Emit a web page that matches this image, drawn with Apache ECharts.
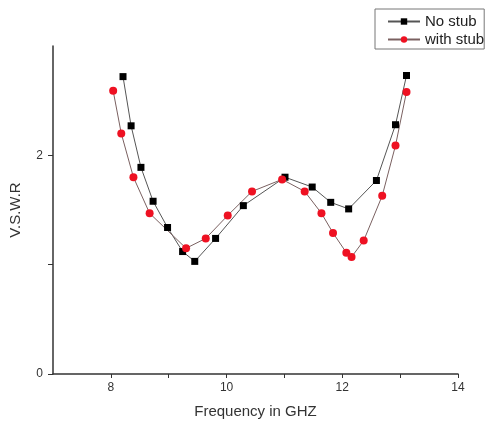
<!DOCTYPE html>
<html lang="en">
<head>
    <meta charset="UTF-8">
    <title>VSWR</title>
    <script src="https://cdn.jsdelivr.net/npm/echarts@6/dist/echarts.min.js"></script>
    <style>
        html, body { margin: 0; padding: 0; background: #fff; }
        #chart { width: 488px; height: 424px; }
    </style>
</head>
<body>
<div id="chart"></div>
<script>
    // frequency (GHz) / VSWR
    const noStubFreq = [8.21, 8.35, 8.52, 8.73, 8.98, 9.24, 9.45, 9.81, 10.29, 11.01, 11.48, 11.80, 12.11, 12.59, 12.92, 13.11];
    const noStubVswr = [2.72, 2.27, 1.89, 1.58, 1.34, 1.12, 1.03, 1.24, 1.54, 1.80, 1.71, 1.57, 1.51, 1.77, 2.28, 2.73];
    const stubFreq = [8.04, 8.18, 8.39, 8.67, 9.30, 9.64, 10.02, 10.44, 10.96, 11.35, 11.64, 11.84, 12.07, 12.16, 12.37, 12.69, 12.92, 13.11];
    const stubVswr = [2.59, 2.20, 1.80, 1.47, 1.15, 1.24, 1.45, 1.67, 1.78, 1.67, 1.47, 1.29, 1.11, 1.07, 1.22, 1.63, 2.09, 2.58];
    const xLabels = [8, 10, 12, 14];
    const yLabels = [0, 2];

    const zip = (xs, ys) => xs.map((x, i) => [x, ys[i]]);

    const chart = echarts.init(document.getElementById('chart'));
    chart.setOption({
        animation: false,
        grid: {left: 53, right: 30, top: 46, bottom: 49},
        legend: {
            left: 375,
            top: 9,
            orient: 'vertical',
            itemGap: 3,
            itemWidth: 32,
            itemHeight: 8,
            padding: [5, 0, 2, 12],
            borderColor: '#777',
            borderWidth: 1,
            textStyle: {fontSize: 15, color: '#222', fontFamily: 'Liberation Sans'},
            data: ['No stub', 'with stub']
        },
        xAxis: {
            type: 'value',
            min: 7,
            max: 14,
            interval: 1,
            name: 'Frequency in GHZ',
            nameLocation: 'middle',
            nameGap: 30,
            nameTextStyle: {fontSize: 15, color: '#333', fontFamily: 'Liberation Sans'},
            axisLine: {lineStyle: {color: '#333', width: 1.5}},
            axisTick: {customValues: [8, 9, 10, 11, 12, 13, 14], length: 4, lineStyle: {color: '#333'}},
            axisLabel: {customValues: xLabels, fontSize: 12, color: '#333', margin: 8, fontFamily: 'Liberation Sans'},
            splitLine: {show: false}
        },
        yAxis: {
            type: 'value',
            min: 0,
            max: 3,
            interval: 1,
            name: 'V.S.W.R',
            nameLocation: 'middle',
            nameGap: 30,
            nameTextStyle: {fontSize: 15, color: '#333', fontFamily: 'Liberation Sans'},
            axisLine: {show: true, lineStyle: {color: '#333', width: 1.5}},
            axisTick: {show: true, customValues: [0, 1, 2], length: 5, lineStyle: {color: '#333'}},
            axisLabel: {customValues: yLabels, fontSize: 12, color: '#333', margin: 10, fontFamily: 'Liberation Sans'},
            splitLine: {show: false}
        },
        series: [
            {
                name: 'No stub',
                type: 'line',
                data: zip(noStubFreq, noStubVswr),
                symbol: 'rect',
                symbolSize: 7,
                itemStyle: {color: '#000'},
                lineStyle: {color: '#555', width: 1}
            },
            {
                name: 'with stub',
                type: 'line',
                data: zip(stubFreq, stubVswr),
                symbol: 'circle',
                symbolSize: 8,
                itemStyle: {color: '#ee1122'},
                lineStyle: {color: '#7a6060', width: 1}
            }
        ]
    });
</script>
</body>
</html>
